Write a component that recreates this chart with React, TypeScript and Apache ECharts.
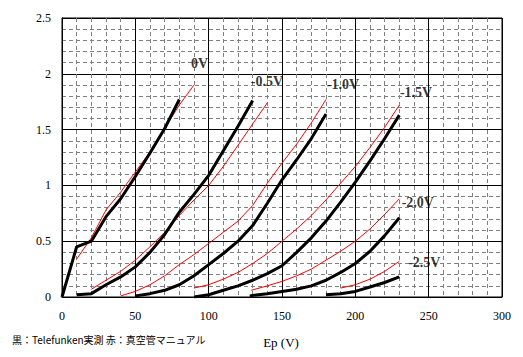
import React, { useEffect, useRef } from "react";
import * as echarts from "echarts";

// Measured (black, Telefunken) curves: [Ep (V), Ip]
const black0V = [[0, 0], [10, 0.45], [20, 0.5], [30, 0.72], [40, 0.88], [50, 1.08], [60, 1.29], [70, 1.51], [80, 1.77]];
const blackM05 = [[10, 0.02], [20, 0.03], [30, 0.11], [40, 0.18], [50, 0.27], [60, 0.4], [70, 0.56], [80, 0.76], [90, 0.92], [100, 1.09], [110, 1.31], [120, 1.53], [130, 1.76]];
const blackM10 = [[50, 0.01], [60, 0.03], [70, 0.06], [80, 0.11], [90, 0.19], [100, 0.29], [110, 0.39], [120, 0.5], [130, 0.64], [140, 0.84], [150, 1.05], [160, 1.23], [170, 1.42], [180, 1.64]];
const blackM15 = [[90, 0.0], [100, 0.02], [110, 0.06], [120, 0.1], [130, 0.15], [140, 0.21], [150, 0.28], [160, 0.4], [170, 0.53], [180, 0.68], [190, 0.85], [200, 1.03], [210, 1.22], [220, 1.42], [230, 1.63]];
const blackM20 = [[128, 0.01], [140, 0.03], [150, 0.05], [160, 0.07], [170, 0.1], [180, 0.15], [190, 0.22], [200, 0.3], [210, 0.41], [220, 0.55], [230, 0.71]];
const blackM25 = [[180, 0.02], [190, 0.03], [200, 0.05], [210, 0.09], [220, 0.13], [230, 0.18]];

// Manual (red) curves
const red0V = [[10, 0.34], [20, 0.53], [30, 0.78], [40, 0.94], [50, 1.12], [60, 1.3], [70, 1.51], [80, 1.72], [90, 1.9]];
const redM05 = [[20, 0.07], [30, 0.15], [40, 0.23], [50, 0.33], [60, 0.45], [70, 0.58], [80, 0.73], [90, 0.87], [100, 1.0], [110, 1.17], [120, 1.36], [130, 1.55], [140, 1.74]];
const redM10 = [[40, 0.01], [50, 0.05], [60, 0.11], [70, 0.19], [80, 0.29], [90, 0.38], [100, 0.48], [110, 0.58], [120, 0.68], [130, 0.82], [140, 1.02], [150, 1.2], [160, 1.37], [170, 1.56], [180, 1.77]];
const redM15 = [[90, 0.08], [100, 0.11], [110, 0.16], [120, 0.22], [130, 0.3], [140, 0.39], [150, 0.5], [160, 0.61], [170, 0.73], [180, 0.87], [190, 1.02], [200, 1.17], [210, 1.34], [220, 1.52], [230, 1.72]];
const redM20 = [[129, 0.06], [140, 0.1], [150, 0.14], [160, 0.19], [170, 0.25], [180, 0.33], [190, 0.41], [200, 0.5], [210, 0.61], [220, 0.74], [230, 0.88]];
const redM25 = [[190, 0.08], [200, 0.11], [210, 0.16], [220, 0.23], [230, 0.32]];

const curveNames = ["0V", "-0.5V", "-1.0V", "-1.5V", "-2.0V", "-2.5V"];
const labelAnchors = [[88, 2.09], [128.7, 1.935], [180.5, 1.9], [230.4, 1.83], [231.6, 0.845], [236, 0.306]];

const blackSets = [black0V, blackM05, blackM10, blackM15, blackM20, blackM25];
const redSets = [red0V, redM05, redM10, redM15, redM20, redM25];

const serif = "'Liberation Serif', 'Times New Roman', serif";

export default function App() {
  const ref = useRef<HTMLDivElement>(null);
  useEffect(() => {
    if (!ref.current) return;
    const chart = echarts.init(ref.current, null, { renderer: "svg" });
    const series: any[] = [];
    redSets.forEach((d, i) => {
      series.push({
        type: "line",
        name: "red" + curveNames[i],
        data: d,
        showSymbol: false,
        lineStyle: { color: "#ff0000", width: 1 },
        z: 3,
      });
    });
    blackSets.forEach((d, i) => {
      series.push({
        type: "line",
        name: "black" + curveNames[i],
        data: d,
        showSymbol: false,
        lineStyle: { color: "#000000", width: 3 },
        z: 4,
      });
    });
    series.push({
      type: "scatter",
      data: labelAnchors.map((p, i) => ({ value: p, name: curveNames[i] })),
      symbolSize: 0,
      z: 5,
      label: {
        show: true,
        position: "right",
        distance: 0,
        formatter: (p: any) => p.name,
        fontFamily: serif,
        fontWeight: "bold",
        fontSize: 14,
        color: "#000",
      },
    });
    chart.setOption({
      animation: false,
      backgroundColor: "#ffffff",
      grid: { left: 62, top: 18, right: 21, bottom: 60, show: true, borderColor: "#000", borderWidth: 1 },
      xAxis: {
        type: "value",
        min: 0,
        max: 300,
        interval: 50,
        axisLine: { show: true, lineStyle: { color: "#000", width: 1 } },
        axisTick: { show: false },
        axisLabel: { color: "#000", fontFamily: serif, fontSize: 12, margin: 13 },
        splitLine: { show: true, lineStyle: { color: "#000", width: 1 } },
        minorTick: { show: false, splitNumber: 5 },
        minorSplitLine: { show: true, lineStyle: { color: "#808080", width: 1, type: [4, 3] } },
      },
      yAxis: {
        type: "value",
        min: 0,
        max: 2.5,
        interval: 0.5,
        axisLine: { show: true, lineStyle: { color: "#000", width: 1 } },
        axisTick: { show: false },
        axisLabel: { color: "#000", fontFamily: serif, fontSize: 12, margin: 11 },
        splitLine: { show: true, lineStyle: { color: "#000", width: 1 } },
        minorTick: { show: false, splitNumber: 5 },
        minorSplitLine: { show: true, lineStyle: { color: "#808080", width: 1, type: [4, 3] } },
      },
      graphic: [
        {
          type: "text",
          left: 12,
          top: 334,
          style: {
            text: "黒：Telefunken実測 赤：真空管マニュアル",
            font: "10px 'Noto Sans CJK JP'",
            fill: "#000",
          },
        },
        {
          type: "text",
          x: 281,
          y: 342,
          style: {
            text: "Ep (V)",
            font: "13px " + serif,
            fill: "#000",
            textAlign: "center",
            textVerticalAlign: "middle",
          },
        },
      ],
      series,
    });
    return () => chart.dispose();
  }, []);
  return (
    <div
      ref={ref}
      style={{ position: "fixed", left: 0, top: 0, width: 523, height: 357, background: "#fff" }}
    />
  );
}
